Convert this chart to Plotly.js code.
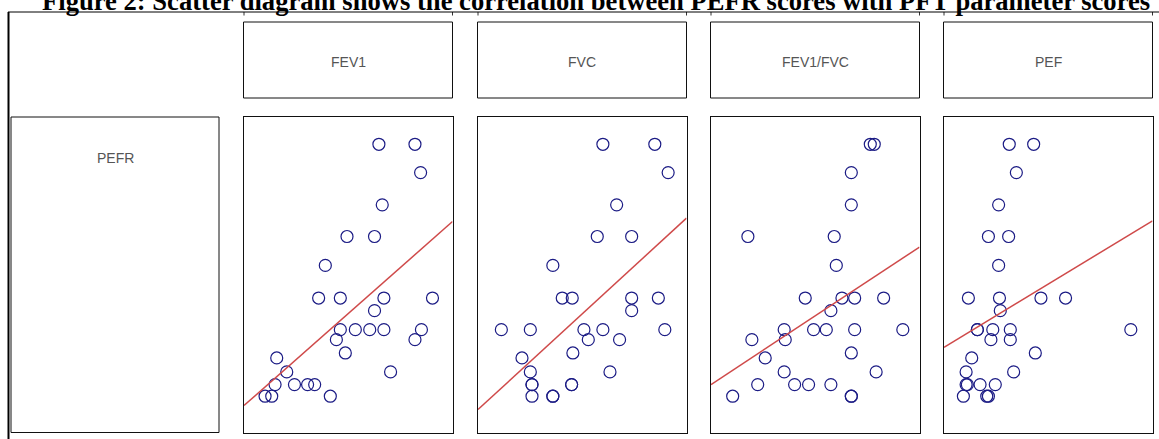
<!DOCTYPE html>
<html>
<head>
<meta charset="utf-8">
<script src="https://cdn.plot.ly/plotly-3.0.1.min.js"></script>
<style>html,body{margin:0;padding:0;background:#fff;}#chart{width:1159px;height:439px;}</style>
</head>
<body>
<div id="chart"></div>
<script>
// ---- data (arbitrary units, no tick labels shown) ----
const panelNames = ["FEV1", "FVC", "FEV1/FVC", "PEF"];
const rowName = "PEFR";
const titleText = "Figure 2: Scatter diagram shows the correlation between PEFR scores with PFT parameter scores";

const pefr = [91.35, 91.35, 82.38, 72.15, 62.13, 62.13, 52.95, 42.62, 42.62, 42.62, 42.62, 38.61,
  32.59, 32.59, 32.59, 32.59, 32.59, 29.43, 29.43, 25.21, 23.63, 19.20, 19.20,
  15.19, 15.19, 15.19, 15.19, 11.50, 11.50, 11.50];

const fev1 = [64.7, 82.0, 84.7, 66.3, 49.4, 62.6, 39.0, 35.8, 46.2, 67.1, 90.4, 62.6,
  46.2, 53.4, 60.3, 67.1, 85.1, 44.3, 82.0, 48.6, 15.7, 20.5, 70.3,
  14.9, 24.2, 30.5, 33.9, 10.1, 13.3, 41.4];

const fvc = [59.9, 84.8, 91.2, 66.5, 57.2, 73.7, 35.9, 40.4, 45.2, 73.7, 86.5, 73.7,
  11.2, 25.1, 50.8, 59.9, 89.6, 52.9, 67.9, 45.5, 21.1, 25.1, 63.3,
  25.9, 25.9, 44.9, 44.9, 25.9, 35.9, 35.9];

const fev1fvc = [76.4, 78.3, 67.3, 67.3, 17.7, 59.1, 60.1, 45.2, 62.8, 68.9, 82.8, 57.5,
  35.1, 49.2, 55.3, 68.9, 92.0, 19.6, 35.6, 67.3, 26.0, 35.1, 79.2,
  22.4, 40.1, 46.8, 57.5, 10.4, 67.3, 67.3];

const pef = [31.3, 43.0, 34.7, 26.2, 21.3, 31.0, 26.2, 11.7, 26.6, 46.5, 58.3, 27.0,
  16.0, 16.0, 23.4, 31.8, 89.6, 22.5, 31.8, 43.8, 13.3, 10.6, 33.4,
  10.6, 11.2, 17.3, 24.6, 9.3, 20.5, 21.3];

// regression line end points (x at panel edges, fitted PEFR)
const fitX = [0, 100];
const fitFev1 = [8.54, 66.87];
const fitFvc = [7.28, 67.94];
const fitRatio = [15.19, 58.77];
const fitPef = [26.99, 67.09];

// ---- layout helpers ----
const W = 1159, H = 439;
const px = v => v / W;
const py = v => (H - v) / H;

const xSeries = [fev1, fvc, fev1fvc, pef];
const fitSeries = [fitFev1, fitFvc, fitRatio, fitPef];
const colLeft = [244, 478, 711, 944];
const colWidth = 208.5;
const panelTop = 117, panelBottom = 432.5;
const headTop = 22, headBottom = 98;
const labelFont = {family: "Liberation Sans, Arial, sans-serif", size: 14, color: "#555555"};

const traces = [];
const layout = {
  width: W, height: H,
  margin: {l: 0, r: 0, t: 0, b: 0},
  paper_bgcolor: "#ffffff", plot_bgcolor: "#ffffff",
  showlegend: false,
  shapes: [], annotations: []
};

for (let i = 0; i < 4; i++) {
  const ax = i === 0 ? "" : String(i + 1);
  traces.push({
    type: "scatter", mode: "markers",
    x: xSeries[i], y: pefr,
    xaxis: "x" + ax, yaxis: "y" + ax,
    marker: {symbol: "circle-open", size: 12, color: "#1c1c85", line: {width: 1.2, color: "#1c1c85"}},
    hoverinfo: "skip"
  });
  traces.push({
    type: "scatter", mode: "lines",
    x: fitX, y: fitSeries[i],
    xaxis: "x" + ax, yaxis: "y" + ax,
    line: {color: "#cf4a4a", width: 1.5},
    hoverinfo: "skip"
  });
  const axCommon = {showgrid: false, zeroline: false, showticklabels: false, ticks: "",
    showline: true, mirror: true, linecolor: "#111111", linewidth: 1, fixedrange: true};
  layout["xaxis" + ax] = Object.assign({}, axCommon, {
    domain: [px(colLeft[i]), px(colLeft[i] + colWidth)], range: [0, 100], anchor: "y" + ax});
  layout["yaxis" + ax] = Object.assign({}, axCommon, {
    domain: [py(panelBottom), py(panelTop)], range: [0, 100], anchor: "x" + ax});

  // header strip box
  layout.shapes.push({type: "rect", xref: "paper", yref: "paper",
    x0: px(colLeft[i] - 0.5), x1: px(colLeft[i] + colWidth), y0: py(headBottom), y1: py(headTop),
    line: {color: "#111111", width: 1}, fillcolor: "rgba(0,0,0,0)"});
  layout.annotations.push({xref: "paper", yref: "paper",
    x: px(colLeft[i] + colWidth / 2), y: py(62),
    xanchor: "center", yanchor: "middle", showarrow: false,
    text: panelNames[i], font: labelFont});
  // small tick marks on the outer top line
  [colLeft[i], colLeft[i] + colWidth].forEach(tx => {
    layout.shapes.push({type: "line", xref: "paper", yref: "paper",
      x0: px(tx), x1: px(tx), y0: py(12), y1: py(15.5), line: {color: "#333333", width: 1}});
  });
}

// row label box
layout.shapes.push({type: "rect", xref: "paper", yref: "paper",
  x0: px(11), x1: px(219), y0: py(panelBottom), y1: py(panelTop),
  line: {color: "#111111", width: 1}, fillcolor: "rgba(0,0,0,0)"});
layout.annotations.push({xref: "paper", yref: "paper",
  x: px(115), y: py(158), xanchor: "center", yanchor: "middle", showarrow: false,
  text: rowName, font: labelFont});

// outer frame lines
layout.shapes.push({type: "line", xref: "paper", yref: "paper",
  x0: px(8.5), x1: px(8.5), y0: 0, y1: py(12), line: {color: "#000000", width: 2}});
layout.shapes.push({type: "line", xref: "paper", yref: "paper",
  x0: px(8), x1: 1, y0: py(12), y1: py(12), line: {color: "#000000", width: 1}});

// figure caption (clipped at the top)
layout.annotations.push({xref: "paper", yref: "paper",
  x: px(40), y: py(0.5), xanchor: "left", yanchor: "middle", showarrow: false,
  text: "<b>" + titleText + "</b>",
  font: {family: "Liberation Serif, Times New Roman, serif", size: 26.6, color: "#000000"}});

Plotly.newPlot("chart", traces, layout, {staticPlot: true, displayModeBar: false});
</script>
</body>
</html>
